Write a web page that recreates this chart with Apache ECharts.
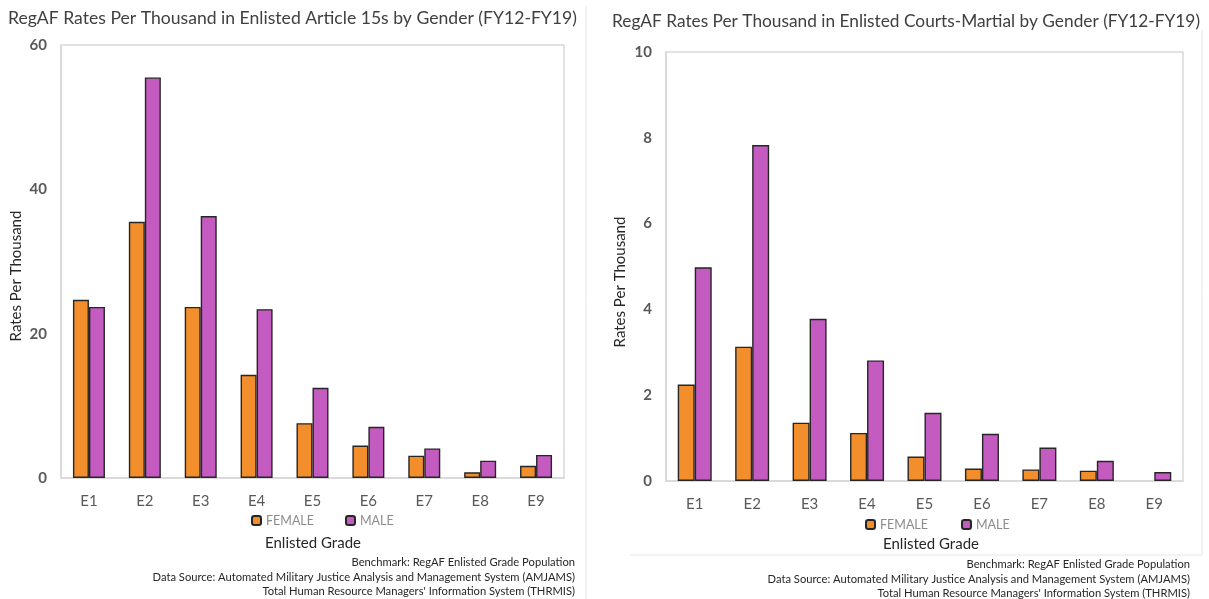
<!DOCTYPE html>
<html>
<head>
<meta charset="utf-8">
<script src="https://cdn.jsdelivr.net/npm/echarts@6/dist/echarts.min.js"></script>
<style>html,body{margin:0;padding:0;background:#fff}#c{width:1209px;height:599px}</style>
</head>
<body>
<div id="c"></div>
<script>
const grades = ['E1','E2','E3','E4','E5','E6','E7','E8','E9'];
const art15Female = [24.7, 35.5, 23.7, 14.3, 7.6, 4.5, 3.1, 0.8, 1.7];
const art15Male   = [23.7, 55.5, 36.3, 23.4, 12.5, 7.1, 4.1, 2.4, 3.2];
const cmFemale = [2.25, 3.13, 1.36, 1.12, 0.57, 0.29, 0.27, 0.24, null];
const cmMale   = [4.98, 7.83, 3.78, 2.81, 1.59, 1.10, 0.78, 0.47, 0.21];
const leftTicks = {min: 0, max: 60, interval: 20};
const rightTicks = {min: 0, max: 10, interval: 2};

const FONT = 'Lato';
const ORANGE = '#F28F2C';
const PURPLE = '#C45BC0';
const chart = echarts.init(document.getElementById('c'));

function xAxis(gridIndex){
  return {
    type: 'category', gridIndex, data: grades,
    axisLine: {show: true, lineStyle: {color: '#d9d9d9', width: 1.5}},
    axisTick: {show: false},
    axisLabel: {color: '#595959', fontSize: 15, fontFamily: FONT, margin: 16}
  };
}
function yAxis(gridIndex, t){
  return {
    type: 'value', gridIndex, min: t.min, max: t.max, interval: t.interval,
    axisLine: {show: true, lineStyle: {color: '#d9d9d9', width: 1.5}},
    axisTick: {show: false},
    splitLine: {show: false},
    axisLabel: {color: '#595959', fontSize: 15, fontFamily: FONT, fontWeight: 'bold', margin: 14}
  };
}
function bar(name, data, color, idx, bw){
  return {
    name, type: 'bar', xAxisIndex: idx, yAxisIndex: idx, data,
    barWidth: bw, barGap: '0%',
    itemStyle: {color, borderColor: '#262626', borderWidth: 1.4},
    emphasis: {disabled: true}
  };
}
function txt(x, y, text, size, color, align, rot){
  return {type: 'text', x, y, rotation: rot || 0, silent: true,
    style: {text, fill: color, font: size + 'px ' + FONT, textAlign: align || 'left', textVerticalAlign: 'middle'}};
}

const notes = ['Benchmark: RegAF Enlisted Grade Population',
  'Data Source: Automated Military Justice Analysis and Management System (AMJAMS)',
  "Total Human Resource Managers' Information System (THRMIS)"];

chart.setOption({
  animation: false,
  grid: [
    {left: 61, top: 45, width: 503, height: 433, show: true, borderColor: '#d9d9d9', borderWidth: 1.5, containLabel: false},
    {left: 666, top: 52, width: 517, height: 429, show: true, borderColor: '#d9d9d9', borderWidth: 1.5, containLabel: false}
  ],
  legend: [
    {left: 246, top: 509, itemWidth: 9, itemHeight: 9, itemGap: 31, data: ['FEMALE','MALE'],
     textStyle: {color: '#8c8c8c', fontSize: 12.5, fontFamily: FONT, lineHeight: 12}, selectedMode: false},
    {left: 860, top: 513, itemWidth: 9, itemHeight: 9, itemGap: 33, data: ['FEMALE','MALE'],
     textStyle: {color: '#8c8c8c', fontSize: 12.5, fontFamily: FONT, lineHeight: 12}, selectedMode: false}
  ],
  xAxis: [xAxis(0), xAxis(1)],
  yAxis: [yAxis(0, leftTicks), yAxis(1, rightTicks)],
  series: [
    bar('FEMALE', art15Female, ORANGE, 0, 16),
    bar('MALE', art15Male, PURPLE, 0, 16),
    bar('FEMALE', cmFemale, ORANGE, 1, 17),
    bar('MALE', cmMale, PURPLE, 1, 17)
  ],
  graphic: [
    txt(8, 18, 'RegAF Rates Per Thousand in Enlisted Article 15s by Gender (FY12-FY19)', 17.6, '#404040'),
    txt(612, 21, 'RegAF Rates Per Thousand in Enlisted Courts-Martial by Gender (FY12-FY19)', 17.3, '#404040'),
    txt(16, 276, 'Rates Per Thousand', 15, '#262626', 'center', Math.PI/2),
    txt(620, 282, 'Rates Per Thousand', 15, '#262626', 'center', Math.PI/2),
    txt(313, 543, 'Enlisted Grade', 15, '#262626', 'center'),
    txt(931, 544, 'Enlisted Grade', 15, '#262626', 'center'),
    txt(575, 562, notes[0], 11.2, '#262626', 'right'),
    txt(575, 577, notes[1], 11.2, '#262626', 'right'),
    txt(575, 591, notes[2], 11.2, '#262626', 'right'),
    txt(1190, 564, notes[0], 11.2, '#262626', 'right'),
    txt(1190, 579, notes[1], 11.2, '#262626', 'right'),
    txt(1190, 593, notes[2], 11.2, '#262626', 'right'),
    {type: 'line', silent: true, shape: {x1: 586, y1: 6, x2: 586, y2: 599}, style: {stroke: '#e6e6e6', lineWidth: 1}},
    {type: 'line', silent: true, shape: {x1: 630, y1: 555, x2: 1202, y2: 555}, style: {stroke: '#e6e6e6', lineWidth: 1}},
    {type: 'line', silent: true, shape: {x1: 1202, y1: 30, x2: 1202, y2: 555}, style: {stroke: '#e6e6e6', lineWidth: 1}}
  ]
});
</script>
</body>
</html>
